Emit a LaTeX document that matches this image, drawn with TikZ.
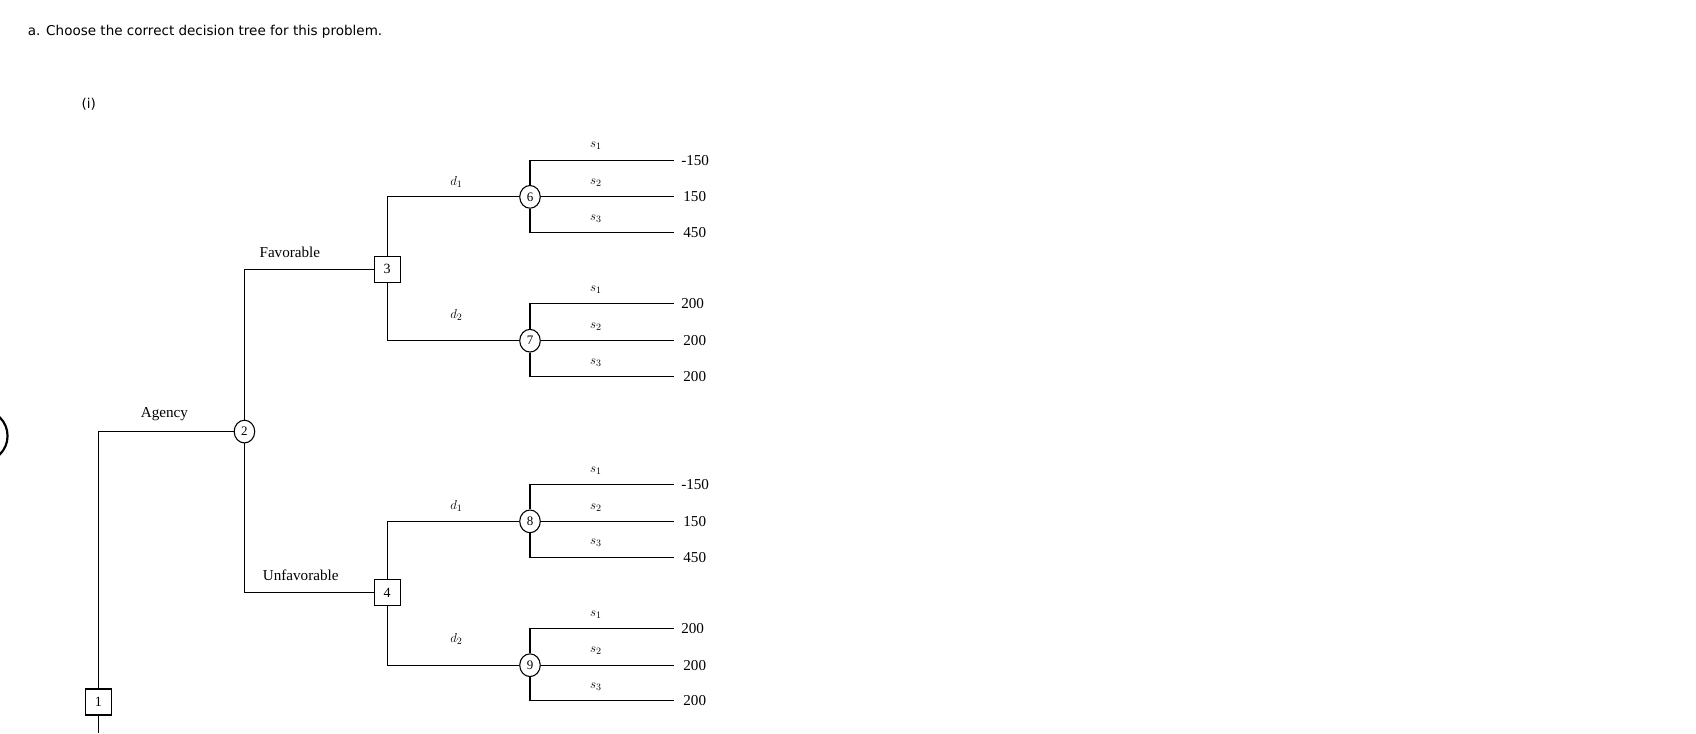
\documentclass[tikz,border=0pt]{standalone}
\usepackage{fontspec}
\usetikzlibrary{shapes.geometric}
\setmainfont{Liberation Serif}
\newfontfamily\titlefont{DejaVu Sans}
\begin{document}
\begin{tikzpicture}[x=1pt,y=-1pt,line width=1pt,
  dbox/.style={draw,fill=white,minimum size=24pt,inner sep=0pt,font=\fontsize{13}{13}\selectfont},
  cnode/.style={draw,fill=white,ellipse,minimum width=19pt,minimum height=21pt,inner sep=0pt,font=\fontsize{12}{12}\selectfont},
  lab/.style={font=\fontsize{14}{14}\selectfont},
  val/.style={font=\fontsize{14}{14}\selectfont,anchor=west},
  sl/.style={font=\fontsize{13}{13}\selectfont}]
\useasboundingbox (0,0) rectangle (1568,678);
\node[anchor=west,font=\titlefont\fontsize{12.5}{12.5}\selectfont] (title) at (22,29) {a. Choose the correct decision tree for this problem.};
\node[font=\titlefont\fontsize{12.5}{12.5}\selectfont] (roman) at (82,96) {(i)};
\draw[line width=2pt] (-17,403) circle (24);
% main tree
\coordinate (bot) at (91,678);
\node[dbox] (n1) at (91,649) {1};
\node[cnode] (n2) at (226,399) {2};
\node[dbox] (n3) at (358,249) {3};
\node[dbox] (n4) at (358,548) {4};
\draw (n1.south) -- (bot);
\draw (n1.north) |- (n2.west);
\draw (n2.north) |- (n3.west);
\draw (n2.south) |- (n4.west);
\node[lab] (ag) at (152,383) {Agency};
\node[lab] (fav) at (268,233) {Favorable};
\node[lab] (unf) at (278,532) {Unfavorable};
\node[cnode] (n6) at (490,182) {6};
\node[cnode] (n7) at (490,315) {7};
\node[cnode] (n8) at (490,482) {8};
\node[cnode] (n9) at (490,615) {9};
\draw (n3.north) |- (n6.west);
\draw (n3.south) |- (n7.west);
\draw (n4.north) |- (n8.west);
\draw (n4.south) |- (n9.west);
\node[sl] (d1a) at (422,168) {$d_1$};
\node[sl] (d2a) at (422,291) {$d_2$};
\node[sl] (d1b) at (422,468) {$d_1$};
\node[sl] (d2b) at (422,591) {$d_2$};
\foreach \c/\y/\a/\b/\d in {n6/182/-150/150/450, n7/315/200/200/200, n8/482/-150/150/450, n9/615/200/200/200}{
  \coordinate (\c e1) at (623,\y-34);
  \coordinate (\c e2) at (623,\y);
  \coordinate (\c e3) at (623,\y+33);
  \draw (\c.north) |- (\c e1);
  \draw (\c.east) -- (\c e2);
  \draw (\c.south) |- (\c e3);
  \node[sl] at (551,\y-47) {$s_1$};
  \node[sl] at (551,\y-13) {$s_2$};
  \node[sl] at (551,\y+20) {$s_3$};
  \node[val] at (626,\y-34) {\a};
  \node[val] at (628,\y) {\b};
  \node[val] at (628,\y+33) {\d};
}
\end{tikzpicture}
\end{document}
